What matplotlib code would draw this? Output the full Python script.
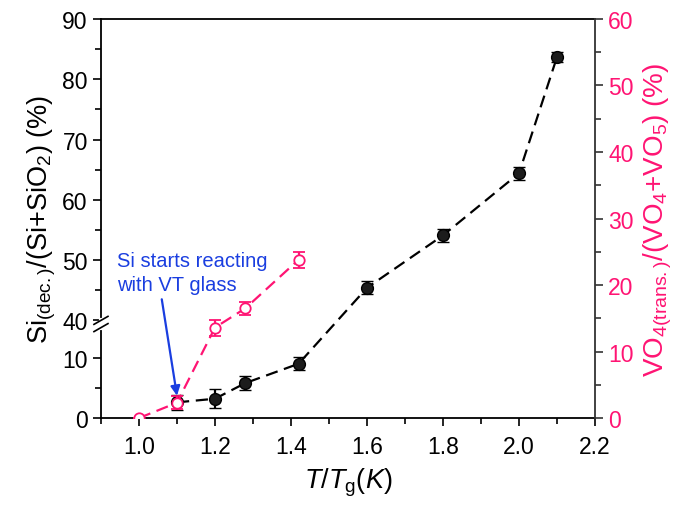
import numpy as np
import matplotlib.pyplot as plt
from matplotlib.ticker import FixedLocator, MultipleLocator

plt.rcParams['font.family'] = ['Liberation Sans', 'DejaVu Sans']
plt.rcParams['mathtext.fontset'] = 'custom'
plt.rcParams['mathtext.rm'] = 'Liberation Sans'
plt.rcParams['mathtext.it'] = 'Liberation Sans:italic'

# Si decomposition (left axis, broken between 15 and 40)
t_si = [1.1, 1.2, 1.28, 1.42, 1.6, 1.8, 2.0, 2.1]
si_dec = [2.6, 3.2, 5.8, 9.0, 45.4, 54.1, 64.4, 83.7]
si_err = [1.2, 1.6, 1.2, 1.1, 1.1, 1.1, 1.1, 0.9]

# VO4 transformation (right axis)
t_vo = [1.0, 1.1, 1.2, 1.28, 1.42]
vo4 = [0.0, 2.3, 13.6, 16.5, 23.8]
vo4_err = [0.0, 1.0, 1.2, 1.0, 1.2]

pink = '#ff1473'
blue = '#1a3ee0'

# broken left axis: 0-15 and 40-90 with a small gap in between
LO, HI, GAP = 15.0, 40.0, 1.2


def fwd(v):
    v = np.asarray(v, dtype=float)
    return np.where(v < LO, v,
                    np.where(v < HI, LO + (v - LO) * GAP / (HI - LO),
                             v - HI + LO + GAP))


def inv(d):
    d = np.asarray(d, dtype=float)
    return np.where(d < LO, d,
                    np.where(d < LO + GAP, LO + (d - LO) * (HI - LO) / GAP,
                             d + HI - LO - GAP))


fig = plt.figure(figsize=(6.93, 5.06), dpi=100)
ax = fig.add_axes([0.1457, 0.1719, 0.7129, 0.7886])
ax.set_yscale('function', functions=(fwd, inv))

ax.errorbar(t_si, si_dec, yerr=si_err, color='black', ls=(0, (5.5, 3)), lw=1.6,
            marker='o', ms=8.5, mfc='#1c1c1c', mec='black', mew=1,
            ecolor='black', elinewidth=1.6, capsize=4, capthick=1.8, zorder=3)

ax.set_xlim(0.9, 2.2)
ax.set_ylim(0, 90)
ax.xaxis.set_major_locator(MultipleLocator(0.2))
ax.xaxis.set_minor_locator(MultipleLocator(0.1))
ax.yaxis.set_major_locator(FixedLocator([0, 10, 40, 50, 60, 70, 80, 90]))
ax.yaxis.set_minor_locator(FixedLocator([5, 45, 55, 65, 75, 85]))
ax.yaxis.set_major_formatter(plt.FuncFormatter(lambda v, p: f'{v:.0f}'))
ax.xaxis.set_major_formatter(plt.FuncFormatter(lambda v, p: f'{v:.1f}'))
ax.tick_params(which='both', direction='out', width=1.2, labelsize=16.5)
ax.tick_params(which='major', length=6)
ax.tick_params(which='minor', length=4)
ax.tick_params(axis='x', pad=6)
for s in ax.spines.values():
    s.set_linewidth(1.3)
ax.spines['right'].set_visible(False)

ax.set_xlabel(r'$T$/$T_{\mathrm{g}}$($K$)', fontsize=19.5, labelpad=6)
ax.set_ylabel(r'Si$_{\mathrm{(dec.)}}$/(Si+SiO$_2$) (%)', fontsize=19.5, labelpad=3)

# break marks on the left spine
ylo = fwd(LO) / fwd(90)
yhi = fwd(HI) / fwd(90)
ax.plot([0, 0], [ylo, yhi], transform=ax.transAxes, color='white', lw=3,
        clip_on=False, zorder=5)
dx, dy = 7 / 494, 4 / 399
for yb in (ylo, yhi):
    ax.plot([-dx, dx], [yb - dy, yb + dy], transform=ax.transAxes,
            color='black', lw=1.2, clip_on=False, zorder=6)

ax2 = ax.twinx()
ax2.errorbar(t_vo, vo4, yerr=vo4_err, color=pink, ls=(0, (5.5, 3)), lw=1.6,
             marker='o', ms=7.5, mfc='white', mec=pink, mew=1.3,
             ecolor=pink, elinewidth=1.6, capsize=4, capthick=1.8, zorder=3)
ax2.set_ylim(0, 60)
ax2.yaxis.set_major_locator(MultipleLocator(10))
ax2.yaxis.set_minor_locator(MultipleLocator(5))
ax2.tick_params(which='both', direction='out', width=1.2, labelsize=16.5,
                labelcolor=pink, color='#333333')
ax2.tick_params(which='major', length=6)
ax2.tick_params(which='minor', length=4)
for name, s in ax2.spines.items():
    s.set_visible(name == 'right')
ax2.spines['right'].set_color('#333333')
ax2.spines['right'].set_linewidth(1.3)
ax2.set_ylabel(r'VO$_{4\mathrm{(trans.)}}$/(VO$_4$+VO$_5$) (%)', fontsize=20,
               color=pink, labelpad=6)

ax.annotate('', xy=(1.1, 3.7), xytext=(1.06, 43.5),
            arrowprops=dict(arrowstyle='-|>', color=blue, lw=1.6,
                            mutation_scale=14, shrinkA=0, shrinkB=0), zorder=7)
ax.text(0.032, 0.418, 'Si starts reacting\nwith VT glass', transform=ax.transAxes,
        color=blue, fontsize=14.5, va='top', ha='left', linespacing=1.3)

fig.savefig('out.png', dpi=100)
